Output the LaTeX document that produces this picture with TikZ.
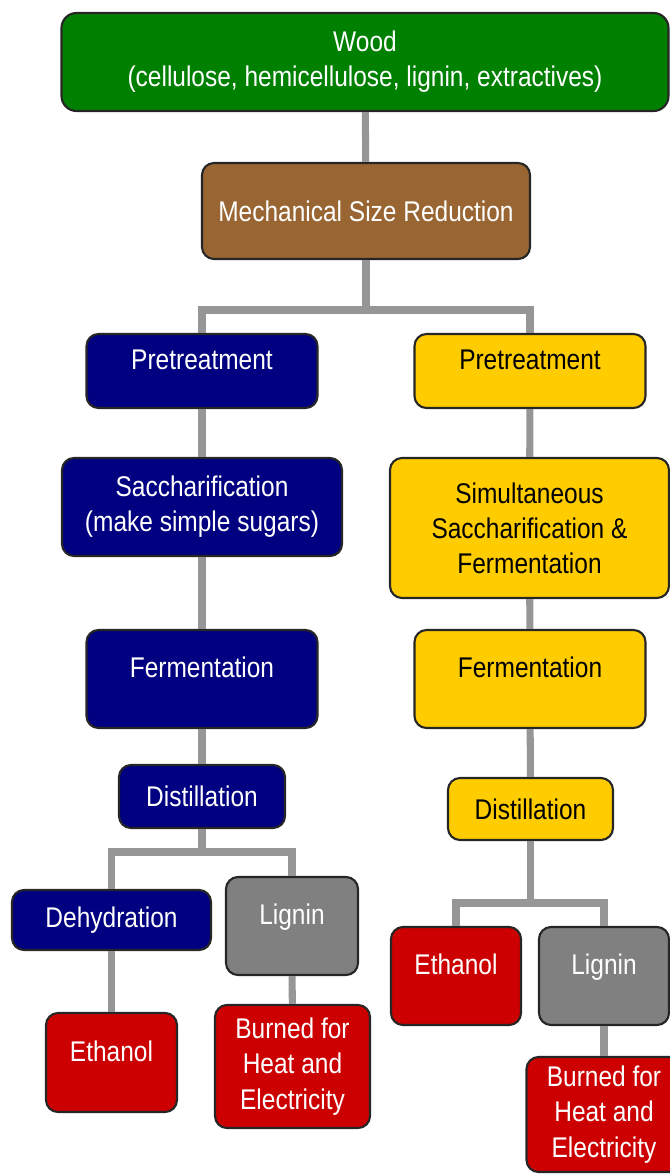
\documentclass[tikz,border=0pt]{standalone}
\usepackage{fontspec}
\setmainfont{Liberation Sans}[FakeStretch=0.86]
\usetikzlibrary{positioning}

\definecolor{woodgreen}{RGB}{0,128,0}
\definecolor{sizebrown}{RGB}{153,102,51}
\definecolor{acidnavy}{RGB}{0,0,128}
\definecolor{ssfyellow}{RGB}{255,204,0}
\definecolor{lignigray}{RGB}{128,128,128}
\definecolor{fuelred}{RGB}{204,0,0}
\definecolor{linkgray}{RGB}{150,150,150}

\begin{document}
\begin{tikzpicture}[
    every node/.style={draw=black!85, line width=1.2pt, rounded corners=0.24cm, align=center,
      inner sep=2pt, font=\fontsize{16.2}{20}\selectfont},
    box/.style 2 args={fill=#1, minimum width=#2},
    raised/.style={text depth=0.47cm},
    link/.style={draw=linkgray, line width=4pt}]
    \useasboundingbox (0,0) rectangle (13.38,-23.48);

    % Top nodes
    \node (wood) [box={woodgreen}{12.14cm}, minimum height=1.96cm, text=white, rounded corners=0.3cm] at (7.30,-1.24)
      {Wood\\(cellulose, hemicellulose, lignin, extractives)};
    \node (mech) [box={sizebrown}{6.56cm}, minimum height=1.92cm, text=white] at (7.32,-4.22)
      {Mechanical Size Reduction};

    % Left branch (separate steps)
    \node (preL) [box={acidnavy}{4.62cm}, minimum height=1.48cm, text=white, raised] at (4.04,-7.42) {Pretreatment};
    \node (sacL) [box={acidnavy}{5.60cm}, minimum height=1.96cm, text=white] at (4.04,-10.14)
      {Saccharification\\(make simple sugars)};
    \node (ferL) [box={acidnavy}{4.62cm}, minimum height=1.96cm, text=white, raised] at (4.04,-13.58) {Fermentation};
    \node (disL) [box={acidnavy}{3.32cm}, minimum height=1.26cm, text=white] at (4.04,-15.93) {Distillation};
    \node (dehL) [box={acidnavy}{3.98cm}, minimum height=1.20cm, text=white] at (2.23,-18.40) {Dehydration};
    \node (ligL) [box={lignigray}{2.64cm}, minimum height=1.96cm, text=white, raised] at (5.84,-18.52) {Lignin};
    \node (ethL) [box={fuelred}{2.62cm}, minimum height=1.98cm, text=white, raised] at (2.23,-21.25) {Ethanol};
    \node (burL) [box={fuelred}{3.10cm}, minimum height=2.46cm, text=white] at (5.85,-21.33)
      {Burned for\\Heat and\\Electricity};

    % Right branch (SSF)
    \node (preR) [box={ssfyellow}{4.62cm}, minimum height=1.48cm, raised] at (10.60,-7.42) {Pretreatment};
    \node (ssfR) [box={ssfyellow}{5.58cm}, minimum height=2.80cm] at (10.59,-10.56)
      {Simultaneous\\Saccharification \&\\Fermentation};
    \node (ferR) [box={ssfyellow}{4.62cm}, minimum height=1.96cm, raised] at (10.60,-13.58) {Fermentation};
    \node (disR) [box={ssfyellow}{3.30cm}, minimum height=1.24cm] at (10.61,-16.18) {Distillation};
    \node (ethR) [box={fuelred}{2.60cm}, minimum height=1.96cm, text=white, raised] at (9.12,-19.52) {Ethanol};
    \node (ligR) [box={lignigray}{2.60cm}, minimum height=1.96cm, text=white, raised] at (12.08,-19.52) {Lignin};
    \node (burR) [box={fuelred}{3.10cm}, minimum height=2.30cm, text=white] at (12.08,-22.29)
      {Burned for\\Heat and\\Electricity};

    % Branch points
    \coordinate (splitTop) at (7.32,-6.20);
    \coordinate (splitL) at (4.04,-17.04);
    \coordinate (splitR) at (10.61,-18.06);

    % Edges
    \draw[link] (wood) -- (mech);
    \draw[link] (mech) -- (splitTop) -| (preL);
    \draw[link] (splitTop) -| (preR);
    \draw[link] (preL) -- (sacL);
    \draw[link] (sacL) -- (ferL);
    \draw[link] (ferL) -- (disL);
    \draw[link] (disL) -- (splitL) -| (dehL);
    \draw[link] (splitL) -| (ligL);
    \draw[link] (dehL) -- (ethL);
    \draw[link] (ligL) -- (burL);
    \draw[link] (preR) -- (ssfR);
    \draw[link] (ssfR) -- (ferR);
    \draw[link] (ferR) -- (disR);
    \draw[link] (disR) -- (splitR) -| (ethR);
    \draw[link] (splitR) -| (ligR);
    \draw[link] (ligR) -- (burR);
\end{tikzpicture}
\end{document}
